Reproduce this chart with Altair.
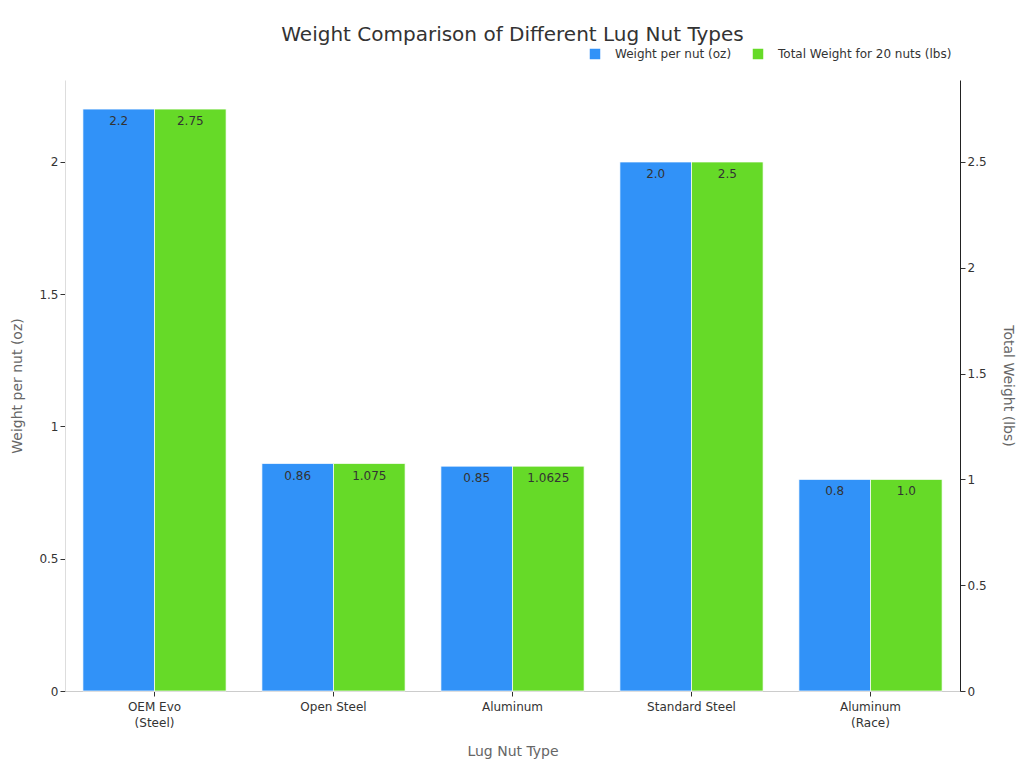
import altair as alt
import pandas as pd

FONT = "DejaVu Sans"
BLUE = "#3192F8"
GREEN = "#66DA28"

lug_types = ["OEM Evo (Steel)", "Open Steel", "Aluminum", "Standard Steel", "Aluminum (Race)"]
weight_per_nut_oz = [2.2, 0.86, 0.85, 2.0, 0.8]
total_weight_lbs = [2.75, 1.075, 1.0625, 2.5, 1.0]

SERIES_OZ = "Weight per nut (oz)"
SERIES_LBS = "Total Weight for 20 nuts (lbs)"

oz_df = pd.DataFrame({
    "type": lug_types,
    "value": weight_per_nut_oz,
    "label": [str(v) for v in weight_per_nut_oz],
    "series": SERIES_OZ,
})
lbs_df = pd.DataFrame({
    "type": lug_types,
    "value": total_weight_lbs,
    "label": [str(v) for v in total_weight_lbs],
    "series": SERIES_LBS,
})

x_enc = alt.X(
    "type:N",
    sort=lug_types,
    scale=alt.Scale(paddingInner=0.2, paddingOuter=0.1),
    axis=alt.Axis(
        title="Lug Nut Type",
        labelAngle=0,
        labelExpr="split(replace(datum.label, ' (', '|('), '|')",
        labelFontSize=12,
        labelColor="#333333",
        labelPadding=5,
        labelLineHeight=16,
        domainColor="#cccccc",
        tickColor="#333333",
        tickSize=5,
        titleFontSize=14,
        titleFontWeight="normal",
        titleColor="#666666",
        titlePadding=16,
    ),
)
xoff_enc = alt.XOffset("series:N", sort=[SERIES_OZ, SERIES_LBS], scale=alt.Scale(domain=[SERIES_OZ, SERIES_LBS]))
color_enc = alt.Color(
    "series:N",
    scale=alt.Scale(domain=[SERIES_OZ, SERIES_LBS], range=[BLUE, GREEN]),
    legend=alt.Legend(
        title=None,
        orient="none",
        legendX=524,
        legendY=-32,
        direction="horizontal",
        symbolType="square",
        symbolSize=110,
        symbolStrokeWidth=0,
        labelFontSize=12,
        labelColor="#333333",
        labelOffset=14,
        labelLimit=0,
        columnPadding=20,
    ),
)


def series_layer(df, domain_max, ticks, title, orient, domain_color, title_pad):
    y_enc = alt.Y(
        "value:Q",
        scale=alt.Scale(domain=[0, domain_max], nice=False),
        axis=alt.Axis(
            title=title,
            orient=orient,
            values=ticks,
            format="~g",
            grid=False,
            labelFontSize=12,
            labelColor="#333333",
            domainColor=domain_color,
            tickColor="#333333",
            tickSize=5,
            titleFontSize=14,
            titleFontWeight="normal",
            titleColor="#666666",
            titlePadding=title_pad,
        ),
    )
    bars = alt.Chart(df).mark_bar(stroke="white", strokeWidth=1, strokeOpacity=0.7).encode(
        x=x_enc, xOffset=xoff_enc, y=y_enc, color=color_enc
    )
    text = alt.Chart(df).mark_text(
        baseline="top", dy=7, fontSize=12, color="#333333", font=FONT
    ).encode(x=x_enc, xOffset=xoff_enc, y=alt.Y("value:Q"), text="label:N")
    return alt.layer(bars, text)


left = series_layer(oz_df, max(weight_per_nut_oz) * 1.05, [0, 0.5, 1, 1.5, 2],
                    "Weight per nut (oz)", "left", "#dddddd", 14)
right = series_layer(lbs_df, max(total_weight_lbs) * 1.05, [0, 0.5, 1, 1.5, 2, 2.5],
                     "Total Weight (lbs)", "right", "#222222", 14)

chart = (
    alt.layer(left, right)
    .resolve_scale(y="independent")
    .properties(
        width=895,
        height=611,
        padding={"left": 57, "top": 72, "right": 56, "bottom": 69},
        autosize=alt.AutoSizeParams(type="none"),
        title=alt.TitleParams(
            "Weight Comparison of Different Lug Nut Types",
            fontSize=20,
            fontWeight="normal",
            color="#333333",
            font=FONT,
            anchor="middle",
            offset=3,
        ),
    )
    .configure(font=FONT)
    .configure_view(stroke=None)
)

chart.save("out.html", embed_options={"renderer": "svg", "actions": False})
